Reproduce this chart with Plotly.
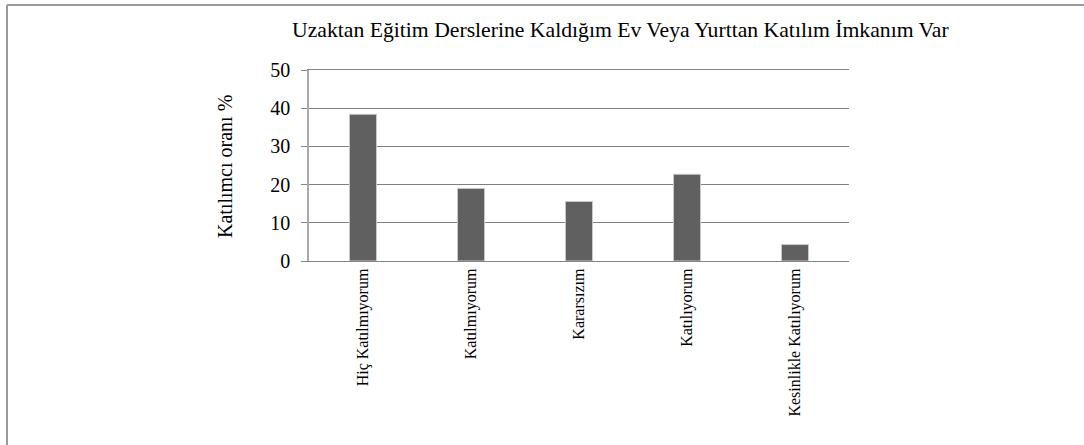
import plotly.graph_objects as go

categories = ["Hiç Katılmıyorum", "Katılmıyorum", "Kararsızım", "Katılıyorum", "Kesinlikle Katılıyorum"]
values = [38.4, 19.0, 15.6, 22.7, 4.3]
y_ticks = [0, 10, 20, 30, 40, 50]

title_text = "Uzaktan Eğitim Derslerine Kaldığım Ev Veya Yurttan Katılım İmkanım Var"
y_title = "Katılımcı oranı %"

FONT = "Liberation Serif"

fig = go.Figure(
    go.Bar(
        x=categories,
        y=values,
        marker=dict(color="#606060", line=dict(color="#c8c8c8", width=1)),
        width=0.25,
    )
)

W, H = 1084, 445
L, R, T, B = 309, 235, 70, 184
pw = W - L - R
ph = H - T - B

def px_x(px):
    return (px - L) / pw

def px_y(py):
    return (H - B - py) / ph

fig.update_layout(
    width=W,
    height=H,
    margin=dict(l=L, r=R, t=T, b=B, pad=0),
    paper_bgcolor="white",
    plot_bgcolor="white",
    showlegend=False,
    font=dict(family=FONT, color="#000000"),
    xaxis=dict(
        type="category",
        tickangle=-90,
        tickfont=dict(size=16, family=FONT),
        showgrid=False,
        showline=True,
        mirror=True,
        linecolor="#848484",
        linewidth=1.4,
        ticks="",
    ),
    yaxis=dict(
        range=[0, 50],
        tickvals=y_ticks,
        tickfont=dict(size=20, family=FONT),
        showgrid=True,
        gridcolor="#808080",
        gridwidth=1.4,
        showline=True,
        linecolor="#a8a8a8",
        linewidth=1.5,
        ticks="outside",
        ticklen=6,
        tickcolor="#878787",
        ticklabelstandoff=7,
        zeroline=False,
    ),
    annotations=[
        dict(
            text=title_text,
            xref="paper", yref="paper",
            x=px_x(620), y=px_y(30),
            xanchor="center", yanchor="middle",
            showarrow=False,
            font=dict(size=21.7, family=FONT, color="#000000"),
        ),
        dict(
            text=y_title,
            xref="paper", yref="paper",
            x=px_x(225), y=px_y(167),
            xanchor="center", yanchor="middle",
            textangle=-90,
            showarrow=False,
            font=dict(size=20, family=FONT, color="#000000"),
        ),
    ],
    shapes=[
        dict(type="line", xref="paper", yref="paper",
             x0=px_x(7), x1=px_x(7), y0=px_y(5), y1=px_y(460),
             line=dict(color="#9a9a9a", width=2)),
        dict(type="line", xref="paper", yref="paper",
             x0=px_x(7), x1=px_x(1100), y0=px_y(5), y1=px_y(5),
             line=dict(color="#9a9a9a", width=2)),
    ],
)

fig.write_html(
    "out.html",
    config={"displayModeBar": False},
    post_script="document.body.style.margin='0';document.body.style.overflow='hidden';",
)
